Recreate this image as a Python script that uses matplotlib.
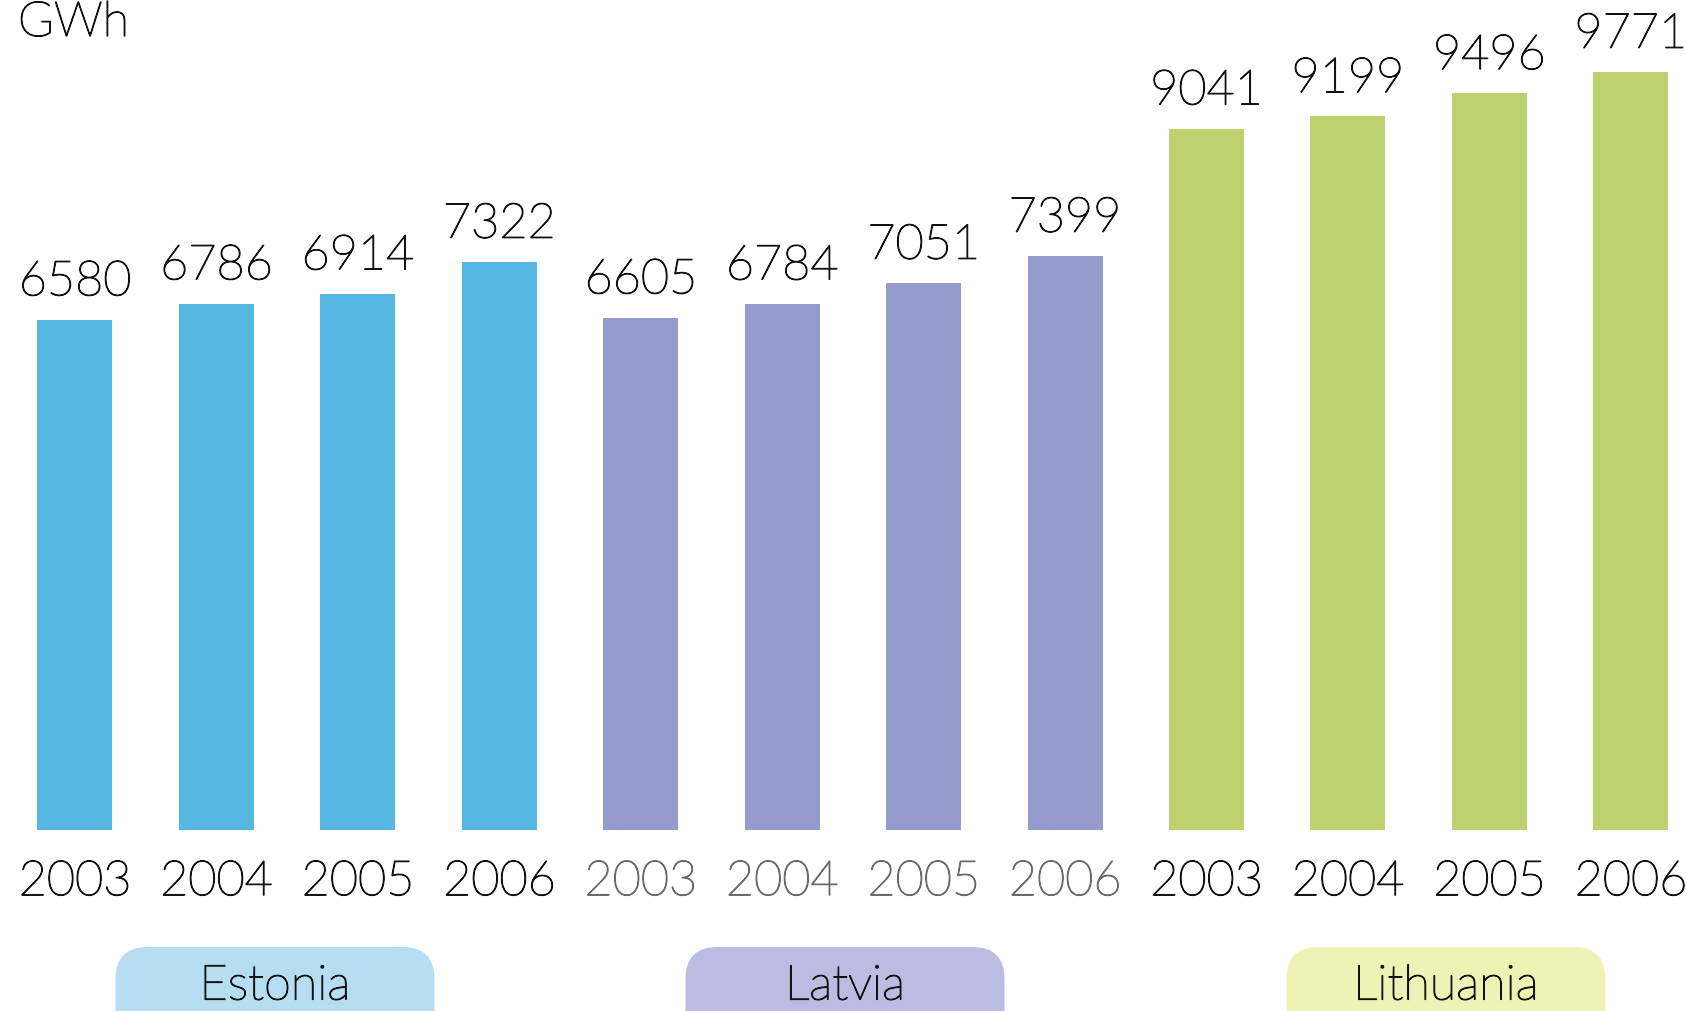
import matplotlib.pyplot as plt
import matplotlib.patheffects as pe
from matplotlib.patches import FancyBboxPatch

# Datos: produccion electrica por pais y año (GWh)
countries = ['Estonia', 'Latvia', 'Lithuania']
years = ['2003', '2004', '2005', '2006']
estonia = [6580, 6786, 6914, 7322]
latvia = [6605, 6784, 7051, 7399]
lithuania = [9041, 9199, 9496, 9771]

bar_colors = ['#56B8E2', '#959BCC', '#BDD26F']
box_colors = ['#B6DDF2', '#BABCE1', '#F0F1B5']
year_colors = ['#111111', '#6a6a6a', '#111111']
text_color = '#111111'

plt.rcParams['font.family'] = ['Lato', 'DejaVu Sans']

W, H = 1686, 1012
fig = plt.figure(figsize=(W / 100, H / 100), dpi=100)
ax = fig.add_axes([0, 0.1789, 1, 0.8048])


def thick(c):
    # engrosa un poco el trazo de la fuente light
    return [pe.withStroke(linewidth=0.9, foreground=c)]


values = estonia + latvia + lithuania
x = list(range(len(values)))
colors = [bar_colors[g] for g in range(3) for _ in years]

bars = ax.bar(x, values, width=0.53, color=colors)

# Etiquetas con el valor encima de cada barra
for b, v in zip(bars, values):
    ax.annotate(str(v), (b.get_x() + b.get_width() / 2, v), xytext=(0, 11),
                textcoords='offset points', ha='center', va='bottom',
                fontsize=35, fontweight='light', color=text_color,
                path_effects=thick(text_color))

ax.set_xlim(-0.53, 11.39)
ax.set_ylim(0, 10500)
ax.set_xticks(x)
ax.set_xticklabels(years * 3, fontsize=35, fontweight='light')
for i, lab in enumerate(ax.get_xticklabels()):
    lab.set_color(year_colors[i // 4])
    lab.set_path_effects(thick(year_colors[i // 4]))
ax.tick_params(axis='x', length=0, pad=21)
ax.set_yticks([])
for s in ax.spines.values():
    s.set_visible(False)

# Capa en pixeles para las cajas de los paises
over = fig.add_axes([0, 0, 1, 1], zorder=-1)
over.set_xlim(0, W)
over.set_ylim(H, 0)
over.axis('off')

box_centers = [275, 845, 1446]
box_w = 319
rad = 32
for c, name, bc in zip(box_centers, countries, box_colors):
    p = FancyBboxPatch((c - box_w / 2 + rad, 948 + rad), box_w - 2 * rad, 100 - 2 * rad,
                       boxstyle=f'round,pad={rad},rounding_size={rad}',
                       facecolor=bc, edgecolor='none')
    over.add_patch(p)
    over.text(c, 987, name, ha='center', va='center',
              fontsize=35, fontweight='light', color=text_color,
              path_effects=thick(text_color))

fig.text(18 / W, (H - 37) / H, 'GWh', ha='left', va='baseline',
         fontsize=35, fontweight='light', color=text_color,
         path_effects=thick(text_color))

fig.savefig('out.png', dpi=100)
